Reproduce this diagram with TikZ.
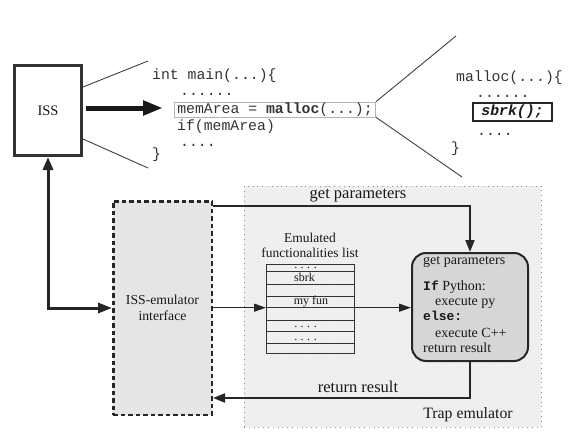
\documentclass[tikz,border=0pt]{standalone}
\usepackage{fontspec}
\setmainfont{Liberation Serif}
\setmonofont{Liberation Mono}
\usetikzlibrary{arrows.meta,patterns,calc}
\tikzset{
  issbox/.style={draw=black!80, line width=3pt, minimum width=67pt, minimum height=90pt, inner sep=0pt, text=black!90, font=\fontsize{14.5}{17}\selectfont},
  code/.style={font=\fontsize{14.8}{17}\selectfont\ttfamily, text=black!80, inner sep=0pt, anchor=base west},
  codebox/.style={code, draw=black!30, line width=0.6pt, inner xsep=3pt, inner ysep=1pt, text height=10pt, text depth=3pt},
  sbrkbox/.style={draw=black!85, line width=2pt, minimum width=79pt, minimum height=18pt, inner sep=0pt, text=black!90, font=\fontsize{14.8}{17}\selectfont\ttfamily\bfseries\itshape},
  thinline/.style={draw=black!75, line width=0.9pt},
  bigarr/.style={draw=black!90, line width=5pt, -{Triangle[length=20pt,width=14pt]}},
  trap/.style={draw=black!45, line width=0.8pt, dash pattern=on 0.8pt off 4pt, fill=black!6, minimum width=297pt, minimum height=241pt, inner sep=0pt, postaction={pattern=north east lines, pattern color=black!9}, postaction={pattern=north west lines, pattern color=black!9}},
  iface/.style={draw=black!85, line width=2.5pt, dash pattern=on 4.5pt off 3pt, fill=black!10, minimum width=98.5pt, minimum height=213.5pt, align=center, text=black!90, font=\fontsize{13.7}{16}\selectfont},
  proc/.style={draw=black!85, line width=2pt, fill=black!16, rounded corners=14pt, minimum width=116pt, minimum height=108pt, inner sep=0pt},
  ptext/.style={font=\fontsize{14}{16}\selectfont, text=black!90, inner sep=0pt, anchor=base west},
  lbl/.style={font=\fontsize{16.5}{19}\selectfont, text=black!90, inner sep=0pt, anchor=base},
  listlbl/.style={font=\fontsize{13.5}{15}\selectfont, text=black!90, inner sep=0pt, anchor=base},
  rowtxt/.style={font=\fontsize{12}{14}\selectfont, text=black!90, inner sep=0pt, anchor=base},
  listbox/.style={draw=black!80, line width=0.8pt, minimum width=88pt, minimum height=89pt, inner sep=0pt, anchor=north west},
  arr/.style={draw=black!85, line width=2pt, -{Triangle[length=12pt,width=9pt]}},
  midarr/.style={draw=black!85, line width=1.3pt, -{Triangle[length=12pt,width=8pt]}},
  issarr/.style={draw=black!85, line width=3pt, {Triangle[length=13pt,width=10pt]}-{Triangle[length=14pt,width=10pt]}}
}
\newcommand{\dotrow}{.\hspace{3.5pt}.\hspace{3.5pt}.\hspace{3.5pt}.}
\begin{document}
\begin{tikzpicture}[x=1pt,y=-1pt]
\useasboundingbox (0,0) rectangle (571,439);

% ---- top part ----
\node[issbox] (iss) at (48,110.5) {ISS};

\node[code] (m1) at (152,79) {int main(...)\{};
\node[code] (m2) at (180,95) {......};
\node[codebox] (mem) at (174,113) {memArea = \textbf{malloc}(...);};
\node[code] (m4) at (177,130) {if(memArea)};
\node[code] (m5) at (180,146) {....};
\node[code] (m6) at (152,158) {\}};

\node[code] (f1) at (456,81) {malloc(...)\{};
\node[code] (f2) at (476,97) {......};
\node[sbrkbox] (sbrk) at (512.5,112) {sbrk();};
\node[code] (f4) at (477,135) {....};
\node[code] (f5) at (451,152) {\}};

\coordinate (la0) at (0,87);
\coordinate (lb0) at (0,139);
\coordinate (la1) at (148,61);
\coordinate (lb1) at (148,168);
\coordinate (ra1) at (456,36);
\coordinate (rb1) at (462,177);
\coordinate (bigY) at (163,108);

\draw[thinline] (iss.east |- la0) -- (la1);
\draw[thinline] (iss.east |- lb0) -- (lb1);
\draw[thinline] (mem.north east) -- (ra1);
\draw[thinline] (mem.south east) -- (rb1);
\draw[bigarr, shorten <=3pt] (iss.east |- bigY) -- (bigY);

% ---- bottom part ----
\node[trap] (trap) at (392.5,306.5) {};
\node[iface] (iface) at (162.5,308) {ISS-emulator\\interface};
\node[proc] (proc) at (470,307) {};

\node[ptext] (p1) at (423,264) {get parameters};
\node[ptext] (p2) at (423,290) {{\fontsize{13}{15}\selectfont\ttfamily\bfseries If} Python:};
\node[ptext] (p3) at (435,305) {execute py};
\node[ptext] (p4) at (423,320) {{\fontsize{13}{15}\selectfont\ttfamily\bfseries else:}};
\node[ptext] (p5) at (435,337) {execute C++};
\node[ptext] (p6) at (423,352) {return result};

% list
\node[listbox] (list) at (266,264) {};
\foreach \yy in {271.7,284.3,296,307.7,320,331.7,343.3}
  \draw[draw=black!80, line width=0.8pt] (266,\yy) -- (354,\yy);
\node[rowtxt] (r1) at (305.5,268) {\dotrow};
\node[rowtxt] (r2) at (304.5,281) {sbrk};
\node[rowtxt] (r3) at (311,304) {my fun};
\node[rowtxt] (r4) at (305.5,327) {\dotrow};
\node[rowtxt] (r5) at (305.5,340) {\dotrow};
\node[listlbl] (ll1) at (310,242) {Emulated};
\node[listlbl] (ll2) at (310,257) {functionalities list};

% connectors
\coordinate (gpY) at (0,205.5);
\coordinate (rrY) at (0,398);
\coordinate (midY) at (0,307.7);
\draw[issarr] (iss.south) |- (iface.west);
\draw[arr] (iface.east |- gpY) -| (proc.north);
\draw[arr] (proc.south) |- (iface.east |- rrY);
\draw[midarr] (iface.east |- midY) -- (list.west |- midY);
\draw[midarr] (list.east |- midY) -- (proc.west |- midY);

\node[lbl] (gpl) at (358,198) {get parameters};
\node[lbl] (rrl) at (358,392) {return result};
\node[lbl, font=\fontsize{15.8}{18}\selectfont] (tel) at (468,418) {Trap emulator};
\end{tikzpicture}
\end{document}
